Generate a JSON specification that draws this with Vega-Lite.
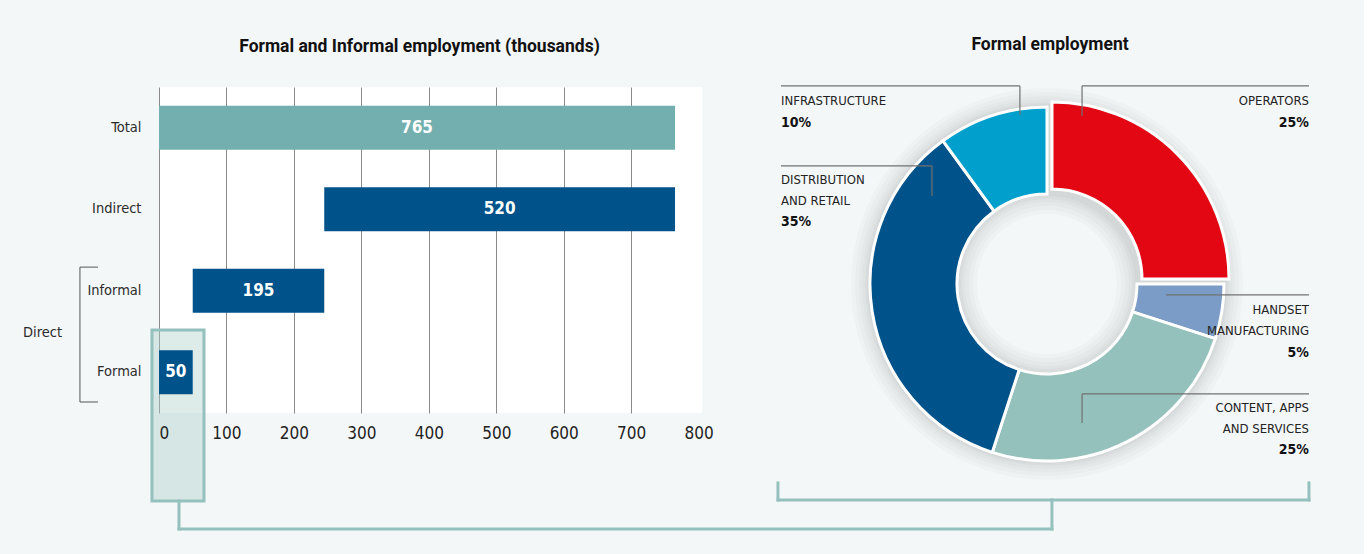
{
  "$schema": "https://vega.github.io/schema/vega-lite/v6.json",
  "background": "#f4f7f8",
  "padding": {"left": 22, "top": 35, "right": 39, "bottom": 24},
  "bounds": "flush",
  "spacing": 67,
  "resolve": {"scale": {"color": "independent"}, "legend": {"color": "independent"}},
  "config": {"view": {"stroke": null}, "font": "Roboto"},
  "datasets": {
    "employment": [
      {"category": "Total", "start": 0, "end": 765, "value": 765},
      {"category": "Indirect", "start": 245, "end": 765, "value": 520},
      {"category": "Informal", "start": 50, "end": 245, "value": 195},
      {"category": "Formal", "start": 0, "end": 50, "value": 50}
    ],
    "formal": [
      {"sector": "OPERATORS", "label": "OPERATORS", "share": 0.25, "rank": 1},
      {"sector": "HANDSET MANUFACTURING", "label": "HANDSET\nMANUFACTURING", "share": 0.05, "rank": 2},
      {"sector": "CONTENT, APPS AND SERVICES", "label": "CONTENT, APPS\nAND SERVICES", "share": 0.25, "rank": 3},
      {"sector": "DISTRIBUTION AND RETAIL", "label": "DISTRIBUTION\nAND RETAIL", "share": 0.35, "rank": 4},
      {"sector": "INFRASTRUCTURE", "label": "INFRASTRUCTURE", "share": 0.10, "rank": 5}
    ]
  },
  "hconcat": [
    {
      "width": 543,
      "height": 326,
      "view": {"fill": "#ffffff", "stroke": null},
      "title": {"text": "Formal and Informal employment (thousands)", "anchor": "middle", "frame": "group", "offset": 18, "baseline": "alphabetic", "dx": -11, "font": "Roboto", "fontSize": 17.5, "fontWeight": "bold", "color": "#111111"},
      "data": {"values": [{}]},
      "resolve": {"scale": {"x": "independent", "y": "independent"}, "axis": {"x": "independent", "y": "independent"}},
      "layer": [
        {
          "mark": {"type": "rect", "fill": "#a9cdc9", "fillOpacity": 0.4, "stroke": "#94c1bd", "strokeWidth": 3},
          "encoding": {
            "x": {"datum": -10.4, "type": "quantitative", "title": null, "scale": {"domain": [0, 805], "nice": false, "zero": false},
              "axis": {"orient": "bottom", "title": null, "values": [0, 100, 200, 300, 400, 500, 600, 700, 800], "grid": true, "gridColor": "#8a8a8a", "gridWidth": 1, "gridOpacity": {"condition": {"test": "datum.value === 800", "value": 0}, "value": 1}, "labels": false, "ticks": false, "domain": false, "zindex": 0}},
            "x2": {"datum": 66.7},
            "y": {"datum": 1.018, "type": "quantitative", "scale": {"domain": [0, 4], "nice": false, "zero": false}, "axis": null},
            "y2": {"datum": -1.08}
          }
        },
        {
          "data": {"name": "employment"},
          "encoding": {
            "y": {"field": "category", "type": "nominal", "scale": {"domain": ["Total", "Indirect", "Informal", "Formal"], "paddingInner": 0.46, "paddingOuter": 0.23},
              "axis": {"title": null, "ticks": false, "domain": false, "grid": false, "labelPadding": 18, "labelFont": "Liberation Sans Narrow, DejaVu Sans Condensed, Roboto Condensed, Roboto", "labelFontSize": 14.5, "labelColor": "#2b2b2b"}}
          },
          "layer": [
            {
              "mark": {"type": "bar"},
              "encoding": {
                "x": {"field": "start", "type": "quantitative", "title": null, "scale": {"domain": [0, 805], "nice": false, "zero": false},
                  "axis": {"orient": "bottom", "title": null, "values": [0, 100, 200, 300, 400, 500, 600, 700, 800], "grid": false, "ticks": false, "domain": false, "labelPadding": 12, "labelFont": "Liberation Sans Narrow, DejaVu Sans Condensed, Roboto Condensed, Roboto", "labelFontSize": 17, "labelColor": "#222222", "zindex": 1}},
                "x2": {"field": "end"},
                "color": {"field": "category", "type": "nominal", "scale": {"domain": ["Total", "Indirect", "Informal", "Formal"], "range": ["#72afae", "#00528a", "#00528a", "#00528a"]}, "legend": null}
              }
            },
            {
              "transform": [{"calculate": "(datum.start + datum.end) / 2", "as": "mid"}],
              "mark": {"type": "text", "color": "#ffffff", "font": "Liberation Sans Narrow, DejaVu Sans Condensed, Roboto Condensed, Roboto", "fontSize": 17, "fontWeight": "bold", "baseline": "middle", "align": "center"},
              "encoding": {
                "x": {"field": "mid", "type": "quantitative", "title": null, "scale": {"domain": [0, 805], "nice": false, "zero": false}},
                "text": {"field": "value", "type": "quantitative"}
              }
            }
          ]
        },
        {
          "mark": {"type": "rule", "color": "#555555", "strokeWidth": 1},
          "encoding": {
            "x": {"datum": -117.2, "type": "quantitative", "scale": {"domain": [0, 805], "nice": false, "zero": false}, "axis": null},
            "y": {"datum": 1.79, "type": "quantitative", "scale": {"domain": [0, 4], "nice": false, "zero": false}, "axis": null},
            "y2": {"datum": 0.135}
          }
        },
        {
          "mark": {"type": "rule", "color": "#555555", "strokeWidth": 1},
          "encoding": {
            "x": {"datum": -117.2, "type": "quantitative", "scale": {"domain": [0, 805], "nice": false, "zero": false}, "axis": null},
            "x2": {"datum": -90.5},
            "y": {"datum": 1.79, "type": "quantitative", "scale": {"domain": [0, 4], "nice": false, "zero": false}, "axis": null}
          }
        },
        {
          "mark": {"type": "rule", "color": "#555555", "strokeWidth": 1},
          "encoding": {
            "x": {"datum": -117.2, "type": "quantitative", "scale": {"domain": [0, 805], "nice": false, "zero": false}, "axis": null},
            "x2": {"datum": -90.5},
            "y": {"datum": 0.135, "type": "quantitative", "scale": {"domain": [0, 4], "nice": false, "zero": false}, "axis": null}
          }
        },
        {
          "mark": {"type": "text", "text": "Direct", "align": "right", "baseline": "middle", "font": "Liberation Sans Narrow, DejaVu Sans Condensed, Roboto Condensed, Roboto", "fontSize": 14.5, "color": "#2b2b2b"},
          "encoding": {
            "x": {"datum": -143.8, "type": "quantitative", "scale": {"domain": [0, 805], "nice": false, "zero": false}, "axis": null},
            "y": {"datum": 0.98, "type": "quantitative", "scale": {"domain": [0, 4], "nice": false, "zero": false}, "axis": null}
          }
        }
      ]
    },
    {
      "width": 556,
      "height": 394,
      "title": {"text": "Formal employment", "anchor": "middle", "frame": "group", "offset": 18, "baseline": "alphabetic", "dx": 3, "font": "Roboto", "fontSize": 17.5, "fontWeight": "bold", "color": "#111111"},
      "data": {"values": [{}]},
      "layer": [
        {"mark": {"type": "arc", "innerRadius": 70, "outerRadius": 196, "theta": 0, "theta2": 6.2832, "fill": "#000000", "opacity": 0.018}, "encoding": {}},
        {"mark": {"type": "arc", "innerRadius": 74, "outerRadius": 192, "theta": 0, "theta2": 6.2832, "fill": "#000000", "opacity": 0.018}, "encoding": {}},
        {"mark": {"type": "arc", "innerRadius": 78, "outerRadius": 188, "theta": 0, "theta2": 6.2832, "fill": "#000000", "opacity": 0.018}, "encoding": {}},
        {"mark": {"type": "arc", "innerRadius": 82, "outerRadius": 185, "theta": 0, "theta2": 6.2832, "fill": "#000000", "opacity": 0.02}, "encoding": {}},
        {"mark": {"type": "arc", "innerRadius": 85, "outerRadius": 182, "theta": 0, "theta2": 6.2832, "fill": "#000000", "opacity": 0.022}, "encoding": {}},
        {"mark": {"type": "arc", "innerRadius": 88, "outerRadius": 180, "theta": 0, "theta2": 6.2832, "fill": "#000000", "opacity": 0.025}, "encoding": {}},
        {
          "data": {"name": "formal"},
          "mark": {"type": "arc", "innerRadius": 90, "outerRadius": 177, "stroke": "#ffffff", "strokeWidth": 3},
          "encoding": {
            "theta": {"field": "share", "type": "quantitative", "stack": true},
            "order": {"field": "rank", "type": "quantitative"},
            "color": {"field": "sector", "type": "nominal", "scale": {"domain": ["OPERATORS", "HANDSET MANUFACTURING", "CONTENT, APPS AND SERVICES", "DISTRIBUTION AND RETAIL", "INFRASTRUCTURE"], "range": ["#e30613", "#7a9cc6", "#95c1bd", "#00528a", "#009fcc"]}, "legend": null},
            "opacity": {"condition": {"test": "datum.sector === 'OPERATORS'", "value": 0}, "value": 1}
          }
        },
        {
          "data": {"name": "formal"},
          "mark": {"type": "arc", "innerRadius": 90, "outerRadius": 177, "stroke": "#ffffff", "strokeWidth": 3, "xOffset": 5, "yOffset": -5},
          "encoding": {
            "theta": {"field": "share", "type": "quantitative", "stack": true},
            "order": {"field": "rank", "type": "quantitative"},
            "color": {"field": "sector", "type": "nominal", "scale": {"domain": ["OPERATORS", "HANDSET MANUFACTURING", "CONTENT, APPS AND SERVICES", "DISTRIBUTION AND RETAIL", "INFRASTRUCTURE"], "range": ["#e30613", "#7a9cc6", "#95c1bd", "#00528a", "#009fcc"]}, "legend": null},
            "opacity": {"condition": {"test": "datum.sector === 'OPERATORS'", "value": 1}, "value": 0}
          }
        },
        {"mark": {"type": "rule", "color": "#707070", "strokeWidth": 1.2}, "encoding": {"x": {"datum": -150.3, "type": "quantitative", "scale": {"domain": [-157.06, 157.06], "nice": false, "zero": false}, "axis": null}, "x2": {"datum": -15.3}, "y": {"datum": 111.9, "type": "quantitative", "scale": {"domain": [-111.3, 111.3], "nice": false, "zero": false}, "axis": null}}},
        {"mark": {"type": "rule", "color": "#707070", "strokeWidth": 1.2}, "encoding": {"x": {"datum": -15.3, "type": "quantitative", "scale": {"domain": [-157.06, 157.06], "nice": false, "zero": false}, "axis": null}, "y": {"datum": 111.9, "type": "quantitative", "scale": {"domain": [-111.3, 111.3], "nice": false, "zero": false}, "axis": null}, "y2": {"datum": 95.5}}},
        {"mark": {"type": "rule", "color": "#707070", "strokeWidth": 1.2}, "encoding": {"x": {"datum": -150.3, "type": "quantitative", "scale": {"domain": [-157.06, 157.06], "nice": false, "zero": false}, "axis": null}, "x2": {"datum": -65.0}, "y": {"datum": 66.7, "type": "quantitative", "scale": {"domain": [-111.3, 111.3], "nice": false, "zero": false}, "axis": null}}},
        {"mark": {"type": "rule", "color": "#707070", "strokeWidth": 1.2}, "encoding": {"x": {"datum": -65.0, "type": "quantitative", "scale": {"domain": [-157.06, 157.06], "nice": false, "zero": false}, "axis": null}, "y": {"datum": 66.7, "type": "quantitative", "scale": {"domain": [-111.3, 111.3], "nice": false, "zero": false}, "axis": null}, "y2": {"datum": 49.7}}},
        {"mark": {"type": "rule", "color": "#707070", "strokeWidth": 1.2}, "encoding": {"x": {"datum": 19.8, "type": "quantitative", "scale": {"domain": [-157.06, 157.06], "nice": false, "zero": false}, "axis": null}, "x2": {"datum": 148.0}, "y": {"datum": 111.9, "type": "quantitative", "scale": {"domain": [-111.3, 111.3], "nice": false, "zero": false}, "axis": null}}},
        {"mark": {"type": "rule", "color": "#707070", "strokeWidth": 1.2}, "encoding": {"x": {"datum": 19.8, "type": "quantitative", "scale": {"domain": [-157.06, 157.06], "nice": false, "zero": false}, "axis": null}, "y": {"datum": 111.9, "type": "quantitative", "scale": {"domain": [-111.3, 111.3], "nice": false, "zero": false}, "axis": null}, "y2": {"datum": 94.9}}},
        {"mark": {"type": "rule", "color": "#707070", "strokeWidth": 1.2}, "encoding": {"x": {"datum": 67.2, "type": "quantitative", "scale": {"domain": [-157.06, 157.06], "nice": false, "zero": false}, "axis": null}, "x2": {"datum": 148.0}, "y": {"datum": -6.2, "type": "quantitative", "scale": {"domain": [-111.3, 111.3], "nice": false, "zero": false}, "axis": null}}},
        {"mark": {"type": "rule", "color": "#707070", "strokeWidth": 1.2}, "encoding": {"x": {"datum": 19.8, "type": "quantitative", "scale": {"domain": [-157.06, 157.06], "nice": false, "zero": false}, "axis": null}, "x2": {"datum": 148.0}, "y": {"datum": -62.1, "type": "quantitative", "scale": {"domain": [-111.3, 111.3], "nice": false, "zero": false}, "axis": null}}},
        {"mark": {"type": "rule", "color": "#707070", "strokeWidth": 1.2}, "encoding": {"x": {"datum": 19.8, "type": "quantitative", "scale": {"domain": [-157.06, 157.06], "nice": false, "zero": false}, "axis": null}, "y": {"datum": -62.1, "type": "quantitative", "scale": {"domain": [-111.3, 111.3], "nice": false, "zero": false}, "axis": null}, "y2": {"datum": -78.5}}},
        {"mark": {"type": "rule", "color": "#94c1bd", "strokeWidth": 3, "strokeCap": "square"}, "encoding": {"x": {"datum": -152.0, "type": "quantitative", "scale": {"domain": [-157.06, 157.06], "nice": false, "zero": false}, "axis": null}, "x2": {"datum": 148.0}, "y": {"datum": -122.0, "type": "quantitative", "scale": {"domain": [-111.3, 111.3], "nice": false, "zero": false}, "axis": null}}},
        {"mark": {"type": "rule", "color": "#94c1bd", "strokeWidth": 3, "strokeCap": "square"}, "encoding": {"x": {"datum": -152.0, "type": "quantitative", "scale": {"domain": [-157.06, 157.06], "nice": false, "zero": false}, "axis": null}, "y": {"datum": -122.0, "type": "quantitative", "scale": {"domain": [-111.3, 111.3], "nice": false, "zero": false}, "axis": null}, "y2": {"datum": -112.4}}},
        {"mark": {"type": "rule", "color": "#94c1bd", "strokeWidth": 3, "strokeCap": "square"}, "encoding": {"x": {"datum": 148.0, "type": "quantitative", "scale": {"domain": [-157.06, 157.06], "nice": false, "zero": false}, "axis": null}, "y": {"datum": -122.0, "type": "quantitative", "scale": {"domain": [-111.3, 111.3], "nice": false, "zero": false}, "axis": null}, "y2": {"datum": -112.4}}},
        {"mark": {"type": "rule", "color": "#94c1bd", "strokeWidth": 3, "strokeCap": "square"}, "encoding": {"x": {"datum": 2.8, "type": "quantitative", "scale": {"domain": [-157.06, 157.06], "nice": false, "zero": false}, "axis": null}, "y": {"datum": -122.0, "type": "quantitative", "scale": {"domain": [-111.3, 111.3], "nice": false, "zero": false}, "axis": null}, "y2": {"datum": -138.4}}},
        {"mark": {"type": "rule", "color": "#94c1bd", "strokeWidth": 3, "strokeCap": "square"}, "encoding": {"x": {"datum": 2.8, "type": "quantitative", "scale": {"domain": [-157.06, 157.06], "nice": false, "zero": false}, "axis": null}, "x2": {"datum": -490.4}, "y": {"datum": -138.4, "type": "quantitative", "scale": {"domain": [-111.3, 111.3], "nice": false, "zero": false}, "axis": null}}},
        {"mark": {"type": "rule", "color": "#94c1bd", "strokeWidth": 3, "strokeCap": "square"}, "encoding": {"x": {"datum": -490.4, "type": "quantitative", "scale": {"domain": [-157.06, 157.06], "nice": false, "zero": false}, "axis": null}, "y": {"datum": -138.4, "type": "quantitative", "scale": {"domain": [-111.3, 111.3], "nice": false, "zero": false}, "axis": null}, "y2": {"datum": -122.6}}},
        {"data": {"name": "formal"}, "transform": [{"filter": "datum.sector === 'INFRASTRUCTURE'"}], "mark": {"type": "text", "align": "left", "baseline": "middle", "font": "Liberation Sans Narrow, DejaVu Sans Condensed, Roboto Condensed, Roboto", "fontSize": 13, "color": "#222222", "lineBreak": "\n", "lineHeight": 21}, "encoding": {"x": {"datum": -150.3, "type": "quantitative", "scale": {"domain": [-157.06, 157.06], "nice": false, "zero": false}, "axis": null}, "y": {"datum": 103.4, "type": "quantitative", "scale": {"domain": [-111.3, 111.3], "nice": false, "zero": false}, "axis": null}, "text": {"field": "label"}}},
        {"data": {"name": "formal"}, "transform": [{"filter": "datum.sector === 'INFRASTRUCTURE'"}], "mark": {"type": "text", "align": "left", "baseline": "middle", "font": "Liberation Sans Narrow, DejaVu Sans Condensed, Roboto Condensed, Roboto", "fontSize": 14, "fontWeight": "bold", "color": "#111111"}, "encoding": {"x": {"datum": -150.3, "type": "quantitative", "scale": {"domain": [-157.06, 157.06], "nice": false, "zero": false}, "axis": null}, "y": {"datum": 91.0, "type": "quantitative", "scale": {"domain": [-111.3, 111.3], "nice": false, "zero": false}, "axis": null}, "text": {"field": "share", "format": ".0%"}}},
        {"data": {"name": "formal"}, "transform": [{"filter": "datum.sector === 'DISTRIBUTION AND RETAIL'"}], "mark": {"type": "text", "align": "left", "baseline": "middle", "font": "Liberation Sans Narrow, DejaVu Sans Condensed, Roboto Condensed, Roboto", "fontSize": 13, "color": "#222222", "lineBreak": "\n", "lineHeight": 21}, "encoding": {"x": {"datum": -150.3, "type": "quantitative", "scale": {"domain": [-157.06, 157.06], "nice": false, "zero": false}, "axis": null}, "y": {"datum": 58.8, "type": "quantitative", "scale": {"domain": [-111.3, 111.3], "nice": false, "zero": false}, "axis": null}, "text": {"field": "label"}}},
        {"data": {"name": "formal"}, "transform": [{"filter": "datum.sector === 'DISTRIBUTION AND RETAIL'"}], "mark": {"type": "text", "align": "left", "baseline": "middle", "font": "Liberation Sans Narrow, DejaVu Sans Condensed, Roboto Condensed, Roboto", "fontSize": 14, "fontWeight": "bold", "color": "#111111"}, "encoding": {"x": {"datum": -150.3, "type": "quantitative", "scale": {"domain": [-157.06, 157.06], "nice": false, "zero": false}, "axis": null}, "y": {"datum": 35.0, "type": "quantitative", "scale": {"domain": [-111.3, 111.3], "nice": false, "zero": false}, "axis": null}, "text": {"field": "share", "format": ".0%"}}},
        {"data": {"name": "formal"}, "transform": [{"filter": "datum.sector === 'OPERATORS'"}], "mark": {"type": "text", "align": "right", "baseline": "middle", "font": "Liberation Sans Narrow, DejaVu Sans Condensed, Roboto Condensed, Roboto", "fontSize": 13, "color": "#222222", "lineBreak": "\n", "lineHeight": 21}, "encoding": {"x": {"datum": 148.0, "type": "quantitative", "scale": {"domain": [-157.06, 157.06], "nice": false, "zero": false}, "axis": null}, "y": {"datum": 103.4, "type": "quantitative", "scale": {"domain": [-111.3, 111.3], "nice": false, "zero": false}, "axis": null}, "text": {"field": "label"}}},
        {"data": {"name": "formal"}, "transform": [{"filter": "datum.sector === 'OPERATORS'"}], "mark": {"type": "text", "align": "right", "baseline": "middle", "font": "Liberation Sans Narrow, DejaVu Sans Condensed, Roboto Condensed, Roboto", "fontSize": 14, "fontWeight": "bold", "color": "#111111"}, "encoding": {"x": {"datum": 148.0, "type": "quantitative", "scale": {"domain": [-157.06, 157.06], "nice": false, "zero": false}, "axis": null}, "y": {"datum": 91.0, "type": "quantitative", "scale": {"domain": [-111.3, 111.3], "nice": false, "zero": false}, "axis": null}, "text": {"field": "share", "format": ".0%"}}},
        {"data": {"name": "formal"}, "transform": [{"filter": "datum.sector === 'HANDSET MANUFACTURING'"}], "mark": {"type": "text", "align": "right", "baseline": "middle", "font": "Liberation Sans Narrow, DejaVu Sans Condensed, Roboto Condensed, Roboto", "fontSize": 13, "color": "#222222", "lineBreak": "\n", "lineHeight": 21}, "encoding": {"x": {"datum": 148.0, "type": "quantitative", "scale": {"domain": [-157.06, 157.06], "nice": false, "zero": false}, "axis": null}, "y": {"datum": -14.7, "type": "quantitative", "scale": {"domain": [-111.3, 111.3], "nice": false, "zero": false}, "axis": null}, "text": {"field": "label"}}},
        {"data": {"name": "formal"}, "transform": [{"filter": "datum.sector === 'HANDSET MANUFACTURING'"}], "mark": {"type": "text", "align": "right", "baseline": "middle", "font": "Liberation Sans Narrow, DejaVu Sans Condensed, Roboto Condensed, Roboto", "fontSize": 14, "fontWeight": "bold", "color": "#111111"}, "encoding": {"x": {"datum": 148.0, "type": "quantitative", "scale": {"domain": [-157.06, 157.06], "nice": false, "zero": false}, "axis": null}, "y": {"datum": -39.0, "type": "quantitative", "scale": {"domain": [-111.3, 111.3], "nice": false, "zero": false}, "axis": null}, "text": {"field": "share", "format": ".0%"}}},
        {"data": {"name": "formal"}, "transform": [{"filter": "datum.sector === 'CONTENT, APPS AND SERVICES'"}], "mark": {"type": "text", "align": "right", "baseline": "middle", "font": "Liberation Sans Narrow, DejaVu Sans Condensed, Roboto Condensed, Roboto", "fontSize": 13, "color": "#222222", "lineBreak": "\n", "lineHeight": 21}, "encoding": {"x": {"datum": 148.0, "type": "quantitative", "scale": {"domain": [-157.06, 157.06], "nice": false, "zero": false}, "axis": null}, "y": {"datum": -70.1, "type": "quantitative", "scale": {"domain": [-111.3, 111.3], "nice": false, "zero": false}, "axis": null}, "text": {"field": "label"}}},
        {"data": {"name": "formal"}, "transform": [{"filter": "datum.sector === 'CONTENT, APPS AND SERVICES'"}], "mark": {"type": "text", "align": "right", "baseline": "middle", "font": "Liberation Sans Narrow, DejaVu Sans Condensed, Roboto Condensed, Roboto", "fontSize": 14, "fontWeight": "bold", "color": "#111111"}, "encoding": {"x": {"datum": 148.0, "type": "quantitative", "scale": {"domain": [-157.06, 157.06], "nice": false, "zero": false}, "axis": null}, "y": {"datum": -93.8, "type": "quantitative", "scale": {"domain": [-111.3, 111.3], "nice": false, "zero": false}, "axis": null}, "text": {"field": "share", "format": ".0%"}}}
      ]
    }
  ]
}
